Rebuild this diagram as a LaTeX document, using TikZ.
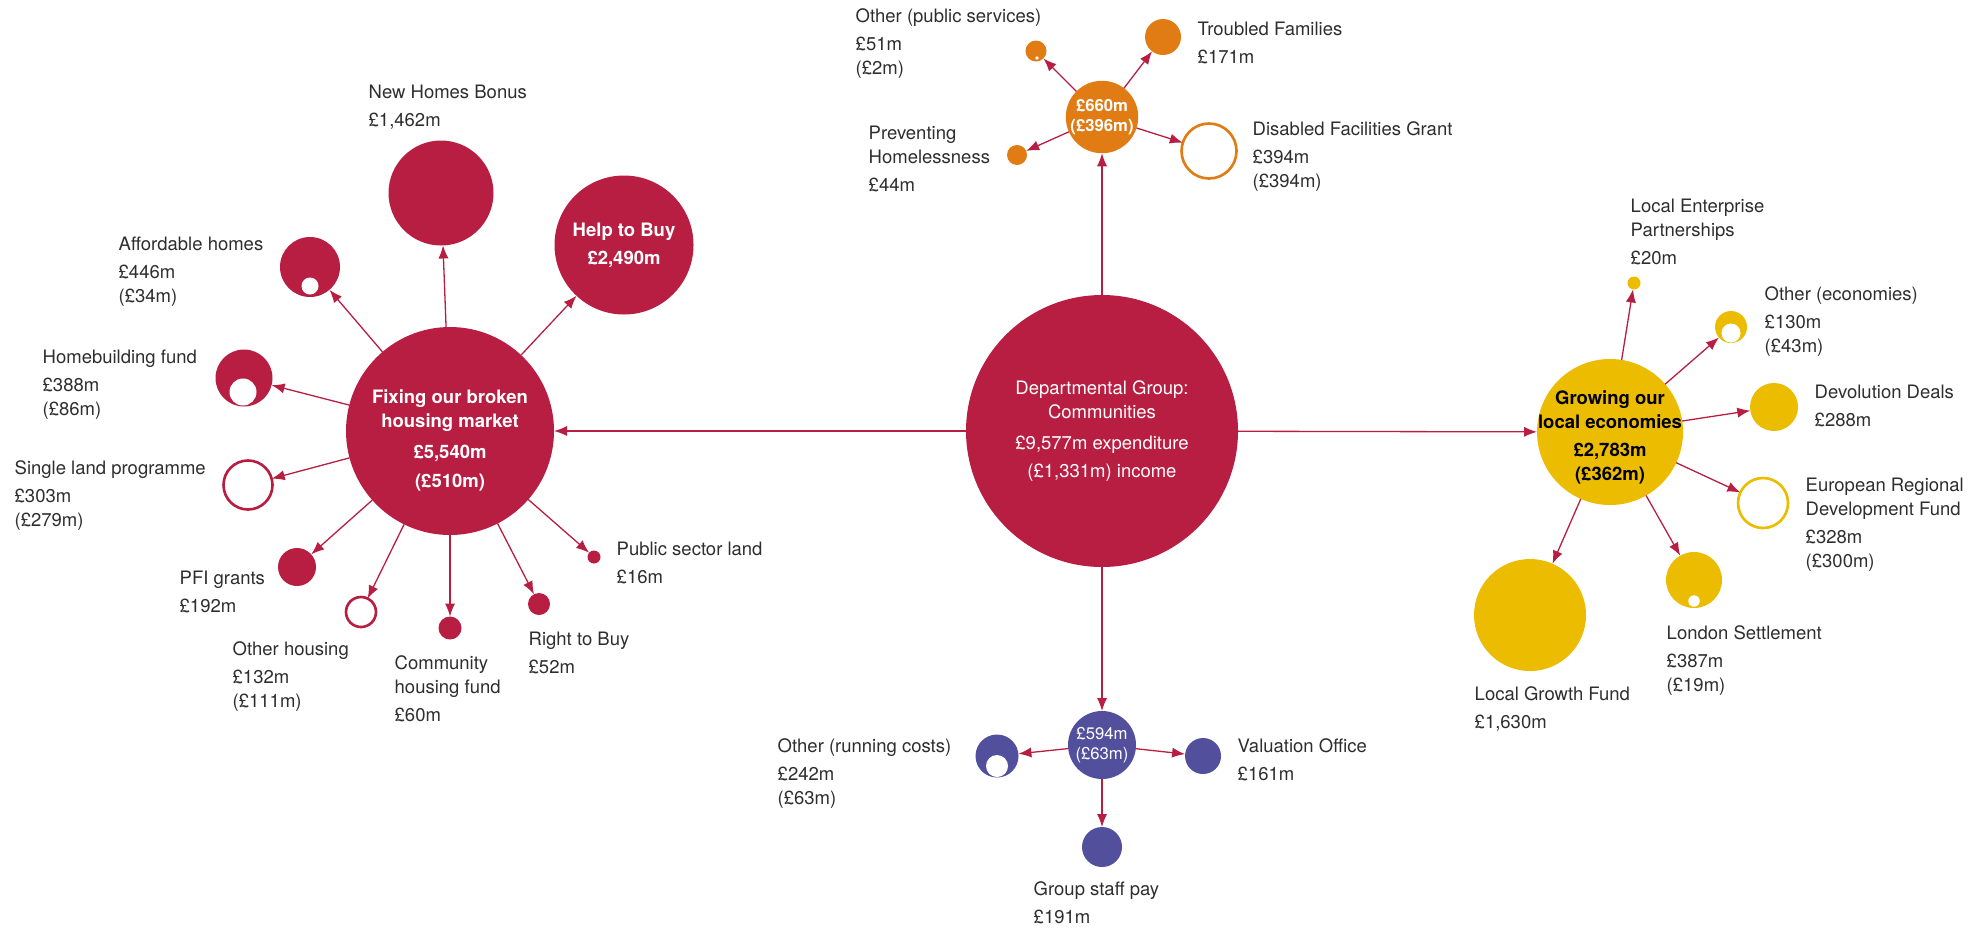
\documentclass[tikz,border=0pt]{standalone}
\usepackage{fontspec}
\setmainfont{TeX Gyre Heros}
\usetikzlibrary{arrows.meta}

\definecolor{housing}{HTML}{B81E41}
\definecolor{services}{HTML}{E07C13}
\definecolor{economy}{HTML}{EBBC00}
\definecolor{running}{HTML}{524F9C}
\definecolor{labelgray}{HTML}{2E2E2E}

\tikzset{
  dia/.style={minimum size=#1*0.01cm},
  blob/.style={circle, inner sep=0pt, outer sep=0pt, fill=#1},
  ring/.style={circle, inner sep=0pt, outer sep=0pt, draw=#1, line width=0.75pt, fill=white},
  hole/.style={circle, inner sep=0pt, outer sep=0pt, fill=white},
  lbl/.style={anchor=north west, inner sep=0pt, align=left, text=labelgray,
    font=\fontsize{5.26pt}{6.83pt}\selectfont},
  hubtxt/.style={inner sep=0pt, align=center, text=white,
    font=\fontsize{5.26pt}{6.83pt}\selectfont},
  smalltxt/.style={hubtxt, font=\fontsize{4.75pt}{5.8pt}\selectfont},
  flow/.style={draw=housing, line width=0.37pt, -{Latex[length=3.7pt,width=2.9pt]}},
}

\begin{document}
\begin{tikzpicture}[x=0.01cm, y=-0.01cm]
  \useasboundingbox (0,0) rectangle (1983,927);

  % centre
  \node[blob=housing, dia=272, hubtxt] (main) at (1102,431)
    {Departmental Group:\\Communities\\[2pt]£9,577m expenditure\\[0.9pt](£1,331m) income};

  % housing
  \node[blob=housing, dia=208] (fix) at (450,431) {};
  \node[hubtxt, font=\fontsize{5.26pt}{6.83pt}\bfseries] (fix-t) at (450,440)
    {Fixing our broken\\housing market\\[2pt]£5,540m\\[1.4pt](£510m)};
  \node[blob=housing, dia=105] (nhb) at (441,193) {};
  \node[blob=housing, dia=139, hubtxt, font=\fontsize{5.26pt}{6.83pt}\bfseries] (htb) at (624,245)
    {Help to Buy\\[1.1pt]£2,490m};
  \node[blob=housing, dia=60] (afh) at (310,267) {};
  \node[hole, dia=17] (afh-in) at (310,286) {};
  \node[blob=housing, dia=57] (hbf) at (244,378) {};
  \node[hole, dia=27] (hbf-in) at (243,392) {};
  \node[ring=housing, dia=49] (slp) at (248,485) {};
  \node[blob=housing, dia=38] (pfi) at (297,567) {};
  \node[ring=housing, dia=30] (oth) at (361,612) {};
  \node[blob=housing, dia=23] (chf) at (450,628) {};
  \node[blob=housing, dia=22] (rtb) at (539,604) {};
  \node[blob=housing, dia=13] (psl) at (594,557) {};

  \node[lbl] (nhb-l) at (368,84) {New Homes Bonus\\[1.1pt]£1,462m};
  \node[lbl] (afh-l) at (118,236) {Affordable homes\\[1.1pt]£446m\\(£34m)};
  \node[lbl] (hbf-l) at (42,349) {Homebuilding fund\\[1.1pt]£388m\\(£86m)};
  \node[lbl] (slp-l) at (14,460) {Single land programme\\[1.1pt]£303m\\(£279m)};
  \node[lbl] (pfi-l) at (179,570) {PFI grants\\[1.1pt]£192m};
  \node[lbl] (oth-l) at (232,641) {Other housing\\[1.1pt]£132m\\(£111m)};
  \node[lbl] (chf-l) at (394,655) {Community\\housing fund\\[1.1pt]£60m};
  \node[lbl] (rtb-l) at (528,631) {Right to Buy\\[1.1pt]£52m};
  \node[lbl] (psl-l) at (616,541) {Public sector land\\[1.1pt]£16m};

  % public services
  \node[blob=services, dia=71, smalltxt, font=\fontsize{4.75pt}{5.8pt}\bfseries] (pub) at (1102,117)
    {£660m\\(£396m)};
  \node[blob=services, dia=21] (ops) at (1036,51) {};
  \node[hole, dia=3.6] (ops-in) at (1037,58) {};
  \node[blob=services, dia=36] (trf) at (1163,37) {};
  \node[ring=services, dia=55] (dfg) at (1209,151) {};
  \node[blob=services, dia=20] (prh) at (1017,155) {};

  \node[lbl] (ops-l) at (855,8) {Other (public services)\\[1.1pt]£51m\\(£2m)};
  \node[lbl] (trf-l) at (1197,21) {Troubled Families\\[1.1pt]£171m};
  \node[lbl] (prh-l) at (868,125) {Preventing\\Homelessness\\[1.1pt]£44m};
  \node[lbl] (dfg-l) at (1252,121) {Disabled Facilities Grant\\[1.1pt]£394m\\(£394m)};

  % running costs
  \node[blob=running, dia=68, smalltxt] (run) at (1102,745) {£594m\\(£63m)};
  \node[blob=running, dia=43] (orc) at (997,756) {};
  \node[hole, dia=22] (orc-in) at (997,766) {};
  \node[blob=running, dia=36] (vof) at (1203,756) {};
  \node[blob=running, dia=40] (gsp) at (1102,847) {};

  \node[lbl] (orc-l) at (777,738) {Other (running costs)\\[1.1pt]£242m\\(£63m)};
  \node[lbl] (vof-l) at (1237,738) {Valuation Office\\[1.1pt]£161m};
  \node[lbl] (gsp-l) at (1033,881) {Group staff pay\\[1.1pt]£191m};

  % local economies
  \node[blob=economy, dia=146] (grow) at (1610,432) {};
  \node[hubtxt, text=black, font=\fontsize{5.26pt}{6.83pt}\bfseries] (grow-t) at (1610,437)
    {Growing our\\local economies\\[1.1pt]£2,783m\\(£362m)};
  \node[blob=economy, dia=13] (lep) at (1634,283) {};
  \node[blob=economy, dia=32] (oec) at (1731,327) {};
  \node[hole, dia=19] (oec-in) at (1731,333) {};
  \node[blob=economy, dia=48] (dvd) at (1774,407) {};
  \node[ring=economy, dia=50] (erd) at (1763,503) {};
  \node[blob=economy, dia=56] (lst) at (1694,580) {};
  \node[hole, dia=11.5] (lst-in) at (1694,601) {};
  \node[blob=economy, dia=112] (lgf) at (1530,615) {};

  \node[lbl] (lep-l) at (1630,198) {Local Enterprise\\Partnerships\\[1.1pt]£20m};
  \node[lbl] (oec-l) at (1764,286) {Other (economies)\\[1.1pt]£130m\\(£43m)};
  \node[lbl] (dvd-l) at (1814,384) {Devolution Deals\\[1.1pt]£288m};
  \node[lbl] (erd-l) at (1805,477) {European Regional\\Development Fund\\[1.1pt]£328m\\(£300m)};
  \node[lbl] (lst-l) at (1666,625) {London Settlement\\[1.1pt]£387m\\(£19m)};
  \node[lbl] (lgf-l) at (1474,686) {Local Growth Fund\\[1.1pt]£1,630m};

  % flows
  \foreach \t in {fix,pub,run,grow} \draw[flow] (main) -- (\t);
  \foreach \t in {nhb,htb,afh,hbf,slp,pfi,oth,chf,rtb,psl} \draw[flow] (fix) -- (\t);
  \foreach \t in {ops,trf,dfg,prh} \draw[flow] (pub) -- (\t);
  \foreach \t in {orc,vof,gsp} \draw[flow] (run) -- (\t);
  \foreach \t in {lep,oec,dvd,erd,lst,lgf} \draw[flow] (grow) -- (\t);
\end{tikzpicture}
\end{document}
